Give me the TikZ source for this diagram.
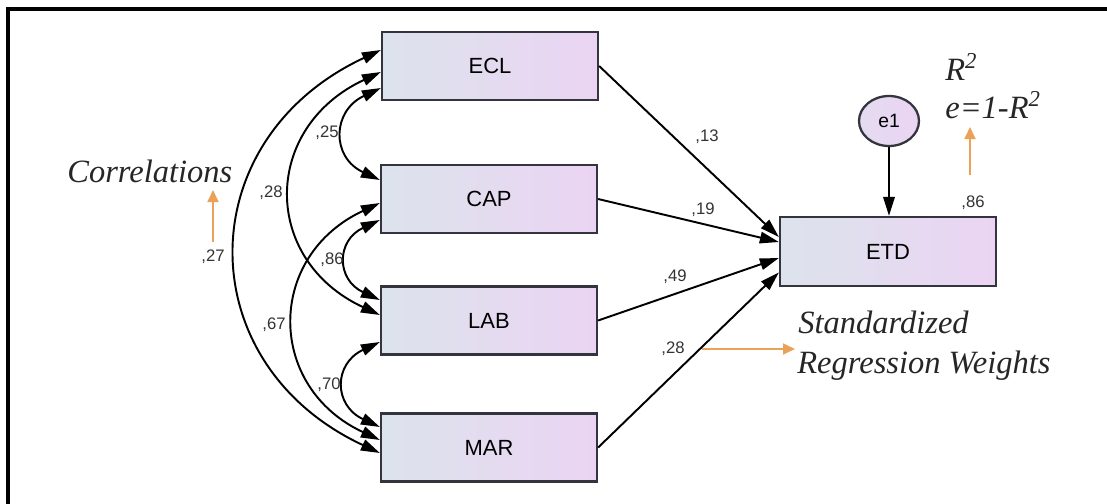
\documentclass[tikz,border=0pt]{standalone}
\usepackage{fontspec}
\setmainfont{Liberation Serif}
\newfontfamily\amosfont{Liberation Sans}
\usetikzlibrary{arrows.meta,shapes.geometric}

\definecolor{boxleft}{HTML}{DCE3EC}
\definecolor{boxright}{HTML}{EBD4F3}
\definecolor{boxline}{HTML}{34343E}
\definecolor{noteorange}{HTML}{E9A257}

\tikzset{
  var/.style={draw=boxline, line width=1.3pt, left color=boxleft, right color=boxright,
    minimum width=4.32cm, minimum height=1.36cm, font=\amosfont\fontsize{12.5}{14}\selectfont},
  err/.style={ellipse, draw=boxline, line width=1.3pt, left color=boxleft!50!boxright, right color=boxright,
    minimum width=1.2cm, minimum height=1.0cm, inner sep=0pt, font=\amosfont\fontsize{11}{12}\selectfont},
  reg/.style={line width=1.1pt, -{Triangle[length=0.38cm,width=0.23cm]}},
  corr/.style={line width=1.1pt, {Triangle[length=0.38cm,width=0.23cm]}-{Triangle[length=0.38cm,width=0.23cm]},
    out=205, in=155, looseness=1.45},
  est/.style={font=\amosfont\fontsize{9.5}{10}\selectfont, inner sep=0pt, text=black!80},
  note/.style={font=\itshape\fontsize{18.5}{20}\selectfont, inner sep=0pt, anchor=base west, text=black!85},
  hint/.style={draw=noteorange, line width=1pt, -{Triangle[length=0.24cm,width=0.22cm]}}
}

\begin{document}
\begin{tikzpicture}[x=0.02cm, y=0.02cm]
    \useasboundingbox (0,0) rectangle (1107,-504);
    \draw [line width=1.8pt] (8,-504) -- (8,-9) -- (1107,-9);

    % observed variables
    \node [var] (ECL) at (490,-66) {ECL};
    \node [var] (CAP) at (489,-199) {CAP};
    \node [var] (LAB) at (489,-320.5) {LAB};
    \node [var] (MAR) at (489,-447.5) {MAR};
    \node [var, minimum height=1.38cm] (ETD) at (888,-251.5) {ETD};
    \node [err] (e1) at (889,-121) {e1};

    % regression paths
    \draw [reg] (ECL.east) -- ([yshift=0.29cm]ETD.west);
    \draw [reg] (CAP.east) -- ([yshift=0.19cm]ETD.west);
    \draw [reg] (LAB.east) -- ([yshift=-0.13cm]ETD.west);
    \draw [reg] (MAR.east) -- ([yshift=-0.42cm]ETD.west);
    \draw [reg] (e1.south) -- (e1.south |- ETD.north);

    % correlations
    \draw [corr, looseness=1.5] ([yshift=-0.44cm]ECL.west) to ([yshift=0.38cm]CAP.west);
    \draw [corr, looseness=1.55] ([yshift=-0.42cm]CAP.west) to ([yshift=0.41cm]LAB.west);
    \draw [corr, looseness=1.55] ([yshift=-0.43cm]LAB.west) to ([yshift=0.41cm]MAR.west);
    \draw [corr, looseness=1.38] ([yshift=-0.12cm]ECL.west) to ([yshift=0.11cm]LAB.west);
    \draw [corr, looseness=1.36] ([yshift=-0.08cm]CAP.west) to ([yshift=0.15cm]MAR.west);
    \draw [corr, looseness=1.34] ([yshift=0.32cm]ECL.west) to ([yshift=-0.11cm]MAR.west);

    % estimates
    \node [est] (w13) at (707,-137) {,13};
    \node [est] (w19) at (703,-210) {,19};
    \node [est] (w49) at (675,-277) {,49};
    \node [est] (w28) at (673,-349) {,28};
    \node [est] (r2) at (973,-203) {,86};
    \node [est] (c25) at (327,-133) {,25};
    \node [est] (c28) at (271,-193) {,28};
    \node [est] (c27) at (213,-257) {,27};
    \node [est] (c86) at (332,-260) {,86};
    \node [est] (c67) at (274,-325) {,67};
    \node [est] (c70) at (329,-385) {,70};

    % notes
    \node [note] (corrtxt) at (67,-182) {Correlations};
    \node [note] (r2txt) at (945,-80) {R\textsuperscript{2}};
    \node [note] (etxt) at (945,-118) {e=1-R\textsuperscript{2}};
    \node [note] (stdtxt) at (798,-333) {Standardized};
    \node [note] (regtxt) at (797,-373) {Regression Weights};

    \coordinate (corrfoot) at (213,-242);
    \coordinate (corrtip) at (213,-190);
    \coordinate (r2foot) at (970,-175);
    \coordinate (r2tip) at (970,-127);
    \coordinate (regfoot) at (702,-349);
    \coordinate (regtip) at (795,-349);
    \draw [hint] (corrfoot) -- (corrtip);
    \draw [hint] (r2foot) -- (r2tip);
    \draw [hint] (regfoot) -- (regtip);
\end{tikzpicture}
\end{document}
